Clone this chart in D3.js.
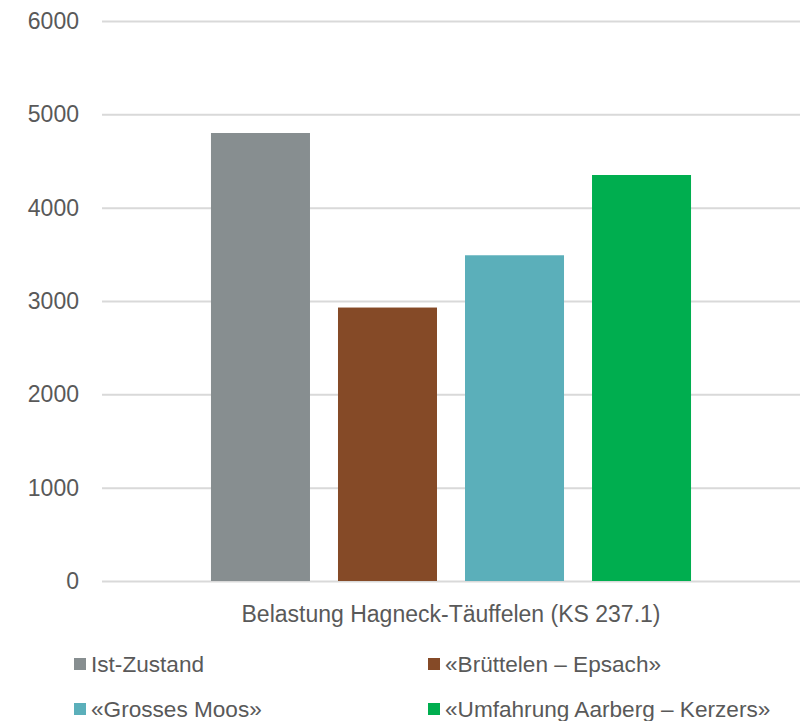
<!DOCTYPE html>
<html><head><meta charset="utf-8">
<script src="https://cdn.jsdelivr.net/npm/d3@7"></script>
<style>body{margin:0;background:#fff}svg{display:block}text{font-family:"Liberation Sans",Arial,sans-serif;fill:#595959}</style>
</head><body>
<script>
const category = "Belastung Hagneck-Täuffelen (KS 237.1)";
const seriesNames = ["Ist-Zustand","«Brüttelen – Epsach»","«Grosses Moos»","«Umfahrung Aarberg – Kerzers»"];
const seriesValues = [4800, 2930, 3490, 4350];
const seriesColors = ["#878e90","#854a27","#5bafba","#00ae4f"];
const yTicks = [0,1000,2000,3000,4000,5000,6000];

const W=805,H=721,FS=23,LFS=22.6;
const svg=d3.select("body").append("svg").attr("width",W).attr("height",H);
const x0=d3.scaleBand().domain([category]).range([102,800]).paddingInner(0).paddingOuter(0.227);
const x1=d3.scaleBand().domain(seriesNames).range([0,x0.bandwidth()]).paddingInner(0.2205).paddingOuter(0);
const y=d3.scaleLinear().domain([0,6000]).range([581,21]);

const yAxis=svg.append("g").attr("transform","translate(102,0)")
  .call(d3.axisLeft(y).tickValues(yTicks).tickSize(-698).tickPadding(23).tickFormat(d3.format("d")));
yAxis.select(".domain").remove();
yAxis.selectAll(".tick line").attr("stroke","#d9d9d9").attr("stroke-width",2);
yAxis.selectAll(".tick text").attr("font-size",FS).style("fill","#595959");

const g=svg.append("g").attr("transform",`translate(${x0(category)},0)`);
g.selectAll("rect").data(seriesNames).join("rect")
  .attr("x",d=>x1(d)).attr("width",x1.bandwidth())
  .attr("y",(d,i)=>y(seriesValues[i])).attr("height",(d,i)=>y(0)-y(seriesValues[i]))
  .attr("fill",(d,i)=>seriesColors[i]);

const xAxis=svg.append("g").attr("transform","translate(0,581)").call(d3.axisBottom(x0).tickSize(0).tickPadding(25));
xAxis.select(".domain").remove();
xAxis.selectAll(".tick text").attr("font-size",FS).style("fill","#595959");

const legPos=[[74,664],[428,664],[74,709],[428,709]];
const leg=svg.append("g").selectAll("g").data(seriesNames).join("g")
  .attr("transform",(d,i)=>`translate(${legPos[i][0]},${legPos[i][1]})`);
leg.append("rect").attr("x",0).attr("y",-6).attr("width",12).attr("height",12).attr("fill",(d,i)=>seriesColors[i]);
leg.append("text").attr("x",17).attr("dy","0.35em").attr("font-size",LFS).text(d=>d);
</script>
</body></html>
